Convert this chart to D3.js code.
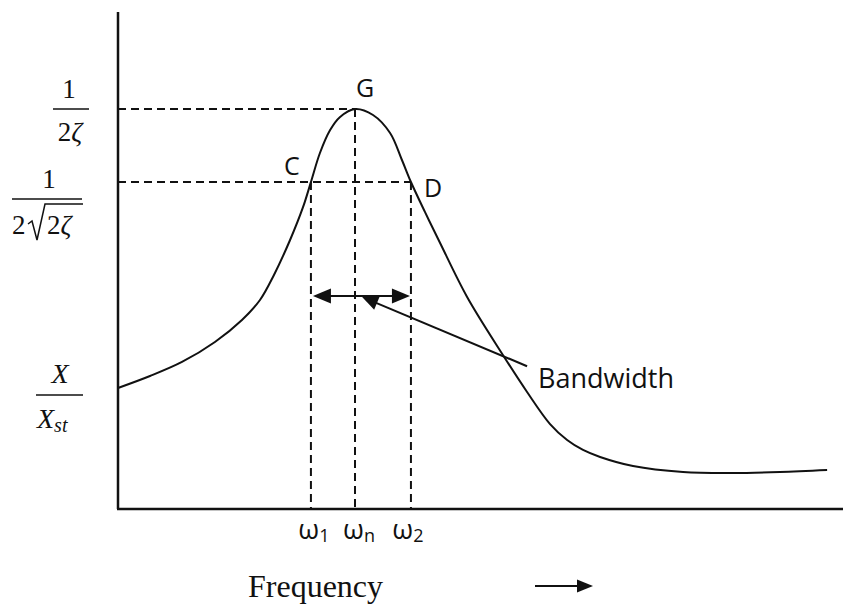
<!DOCTYPE html>
<html>
<head>
<meta charset="utf-8">
<script src="https://cdn.jsdelivr.net/npm/d3@7"></script>
<style>
  html, body { margin: 0; padding: 0; background: #fff; }
  svg { display: block; }
</style>
</head>
<body>
<svg id="chart" width="843" height="604"></svg>
<script>
// Frequency ratio (ω/ωn) and amplitude ratio (X/Xst) of the response curve
const freq = [0, 0.135, 0.270, 0.409, 0.523, 0.599, 0.658, 0.726, 0.781, 0.814, 0.852, 0.895, 0.937, 1.000,
              1.076, 1.148, 1.198, 1.236, 1.295, 1.359, 1.473, 1.624, 1.726, 1.823, 1.895, 1.962, 2.034,
              2.173, 2.384, 2.595, 2.793, 2.992];
const amp  = [1.000, 1.099, 1.215, 1.380, 1.562, 1.727, 1.934, 2.223, 2.496, 2.702, 2.942, 3.132, 3.240, 3.306,
              3.256, 3.107, 2.884, 2.702, 2.455, 2.198, 1.752, 1.273, 0.967, 0.702, 0.570, 0.488, 0.430,
              0.355, 0.306, 0.298, 0.306, 0.322];

// Characteristic frequencies (ω1, ωn, ω2) and levels
const markFreq = [0.814, 1.000, 1.236];
const markFreqLabels = [["ω", "1"], ["ω", "n"], ["ω", "2"]];
const peakAmp = 3.306;       // 1 / 2ζ
const halfPowerAmp = 2.702;  // 1 / (2√2 ζ)
const staticAmp = 1.0;       // X / Xst
const bandwidthLevel = 1.76;
const pointerFrom = [1.726, 1.18];
const pointerTo = [1.03, 1.752];
const pointLabels = ["C", "G", "D"];

const svg = d3.select("#chart");
const plotLeft = 118, plotRight = 843, plotTop = 12, plotBottom = 509;

const x = d3.scaleLinear().domain([0, 3.059]).range([plotLeft, plotRight]);
const y = d3.scaleLinear().domain([0, 4.107]).range([plotBottom, plotTop]);

const ink = "#111";

// Axes
svg.append("line").attr("x1", x(0)).attr("x2", x(0)).attr("y1", y(0)).attr("y2", plotTop)
  .attr("stroke", ink).attr("stroke-width", 2.5);
svg.append("line").attr("x1", x(0) - 1).attr("x2", plotRight).attr("y1", y(0)).attr("y2", y(0))
  .attr("stroke", ink).attr("stroke-width", 2.5);

// Dashed guide lines
const dashed = svg.append("g").attr("stroke", ink).attr("stroke-width", 2)
  .attr("stroke-dasharray", "8,5").attr("fill", "none");
dashed.append("line").attr("x1", x(0)).attr("x2", x(markFreq[1])).attr("y1", y(peakAmp)).attr("y2", y(peakAmp));
dashed.append("line").attr("x1", x(0)).attr("x2", x(markFreq[2])).attr("y1", y(halfPowerAmp)).attr("y2", y(halfPowerAmp));
dashed.append("line").attr("x1", x(markFreq[0])).attr("x2", x(markFreq[0])).attr("y1", y(halfPowerAmp)).attr("y2", y(0));
dashed.append("line").attr("x1", x(markFreq[1])).attr("x2", x(markFreq[1])).attr("y1", y(peakAmp)).attr("y2", y(0));
dashed.append("line").attr("x1", x(markFreq[2])).attr("x2", x(markFreq[2])).attr("y1", y(halfPowerAmp)).attr("y2", y(0));

// Response curve
const pts = freq.map((f, i) => [f, amp[i]]);
const line = d3.line().x(d => x(d[0])).y(d => y(d[1])).curve(d3.curveCatmullRom.alpha(0.5));
svg.append("path").datum(pts).attr("d", line)
  .attr("fill", "none").attr("stroke", ink).attr("stroke-width", 2);

// Filled arrowhead with tip at (tx, ty) pointing along direction from (fx, fy)
function arrowHead(fx, fy, tx, ty, len, half) {
  const dx = tx - fx, dy = ty - fy, L = Math.hypot(dx, dy);
  const ux = dx / L, uy = dy / L;
  const bx = tx - ux * len, by = ty - uy * len;
  const p = [[tx, ty], [bx - uy * half, by + ux * half], [bx + uy * half, by - ux * half]];
  svg.append("path").attr("d", "M" + p.map(q => q.join(",")).join("L") + "Z").attr("fill", ink);
}

// Bandwidth double arrow between ω1 and ω2
const bx1 = x(markFreq[0]) + 2, bx2 = x(markFreq[2]) - 1, bwY = y(bandwidthLevel);
svg.append("line").attr("x1", bx1 + 10).attr("x2", bx2 - 10).attr("y1", bwY).attr("y2", bwY)
  .attr("stroke", ink).attr("stroke-width", 2);
arrowHead(bx2, bwY, bx1, bwY, 18, 7.5);
arrowHead(bx1, bwY, bx2, bwY, 18, 7.5);

// Pointer from the "Bandwidth" label
const pfx = x(pointerFrom[0]), pfy = y(pointerFrom[1]);
const ptx = x(pointerTo[0]), pty = y(pointerTo[1]);
{
  const L = Math.hypot(ptx - pfx, pty - pfy);
  const ex = ptx + (pfx - ptx) / L * 10, ey = pty + (pfy - pty) / L * 10;
  svg.append("line").attr("x1", pfx).attr("y1", pfy).attr("x2", ex).attr("y2", ey)
    .attr("stroke", ink).attr("stroke-width", 2);
  arrowHead(pfx, pfy, ptx, pty, 16, 7);
}

const sans = "'Open Sans', 'Noto Sans', sans-serif";
const serif = "'Liberation Serif', 'DejaVu Serif', serif";

svg.append("text").attr("x", 538).attr("y", pfy + 22).attr("font-family", sans)
  .attr("font-size", 27).attr("fill", ink).text("Bandwidth");

// Point labels C, G, D
const labelPos = [
  { f: markFreq[0], a: halfPowerAmp, dx: -27, dy: -7 },
  { f: markFreq[1], a: peakAmp, dx: 1, dy: -12 },
  { f: markFreq[2], a: halfPowerAmp, dx: 13, dy: 15 }
];
labelPos.forEach((p, i) => {
  svg.append("text").attr("x", x(p.f) + p.dx).attr("y", y(p.a) + p.dy)
    .attr("font-family", sans).attr("font-size", 25).attr("fill", ink).text(pointLabels[i]);
});

// ω tick labels under the axis
const labelShift = [3, 4, -3];
markFreq.forEach((f, i) => {
  const t = svg.append("text").attr("x", x(f) + labelShift[i]).attr("y", y(0) + 30)
    .attr("text-anchor", "middle").attr("font-family", sans).attr("fill", ink);
  t.append("tspan").attr("font-size", 27).text(markFreqLabels[i][0]);
  t.append("tspan").attr("font-size", 18).attr("dy", 3).text(markFreqLabels[i][1]);
});

// Y-axis fraction labels
function fraction(cx, barY, barW, numText, numX) {
  svg.append("line").attr("x1", cx - barW / 2).attr("x2", cx + barW / 2)
    .attr("y1", barY).attr("y2", barY).attr("stroke", ink).attr("stroke-width", 1.5);
  svg.append("text").attr("x", numX ?? cx).attr("y", barY - 11).attr("text-anchor", "middle")
    .attr("font-family", serif).attr("font-size", 27).attr("fill", ink).text(numText);
}

// 1 / 2ζ
{
  const by1 = y(peakAmp);
  fraction(71, by1, 36, "1", 69);
  const t = svg.append("text").attr("x", 70).attr("y", by1 + 32).attr("text-anchor", "middle")
    .attr("font-family", serif).attr("font-size", 27).attr("fill", ink);
  t.append("tspan").text("2");
  t.append("tspan").attr("font-style", "italic").text("ζ");
}

// 1 / (2√2ζ)
{
  const by2 = y(halfPowerAmp) + 17;
  fraction(47, by2, 70, "1", 49);
  const base = by2 + 35;
  svg.append("text").attr("x", 12).attr("y", base).attr("font-family", serif)
    .attr("font-size", 27).attr("fill", ink).text("2");
  svg.append("path")
    .attr("d", `M28,${base - 10} L32,${base - 13} L37,${base + 6} L45,${by2 + 5} L83,${by2 + 5}`)
    .attr("fill", "none").attr("stroke", ink).attr("stroke-width", 1.5);
  const t = svg.append("text").attr("x", 47).attr("y", base).attr("font-family", serif)
    .attr("font-size", 27).attr("fill", ink);
  t.append("tspan").text("2");
  t.append("tspan").attr("font-style", "italic").text("ζ");
}

// X / Xst
{
  const by3 = y(staticAmp) + 7;
  svg.append("line").attr("x1", 36).attr("x2", 83).attr("y1", by3).attr("y2", by3)
    .attr("stroke", ink).attr("stroke-width", 1.5);
  svg.append("text").attr("x", 60).attr("y", by3 - 12).attr("text-anchor", "middle")
    .attr("font-family", serif).attr("font-style", "italic").attr("font-size", 28)
    .attr("fill", ink).text("X");
  const t = svg.append("text").attr("x", 37).attr("y", by3 + 33).attr("font-family", serif)
    .attr("font-style", "italic").attr("fill", ink);
  t.append("tspan").attr("font-size", 28).text("X");
  t.append("tspan").attr("font-size", 20).attr("dy", 4).text("st");
}

// X-axis title with arrow
svg.append("text").attr("x", 248).attr("y", 597).attr("font-family", serif)
  .attr("font-size", 32).attr("fill", ink).text("Frequency");
svg.append("line").attr("x1", 535).attr("x2", 582).attr("y1", 586).attr("y2", 586)
  .attr("stroke", ink).attr("stroke-width", 2);
arrowHead(535, 586, 593, 586, 16, 6.5);
</script>
</body>
</html>
